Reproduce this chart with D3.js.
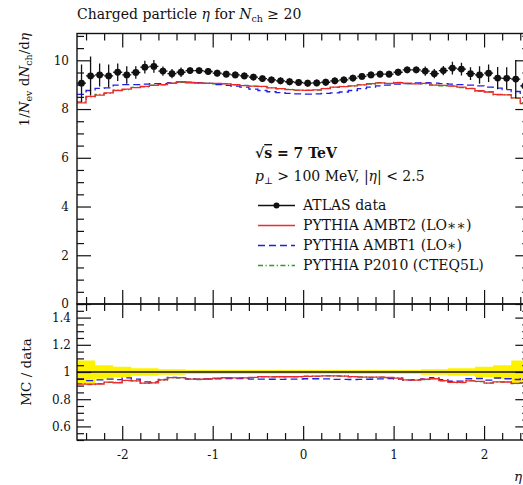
<!DOCTYPE html>
<html>
<head>
<meta charset="utf-8">
<script src="https://cdn.jsdelivr.net/npm/d3@7"></script>
<style>
  html, body { margin: 0; padding: 0; background: #fff; }
  svg { display: block; }
  text { font-family: "DejaVu Serif", "Liberation Serif", serif; fill: #111; }
</style>
</head>
<body>
<svg id="chart" width="523" height="485"></svg>
<script>
// Bin centres in eta (bin width 0.1)
const binCenters = [-2.45,-2.35,-2.25,-2.15,-2.05,-1.95,-1.85,-1.75,-1.65,-1.55,
  -1.45,-1.35,-1.25,-1.15,-1.05,-0.95,-0.85,-0.75,-0.65,-0.55,
  -0.45,-0.35,-0.25,-0.15,-0.05,0.05,0.15,0.25,0.35,0.45,
  0.55,0.65,0.75,0.85,0.95,1.05,1.15,1.25,1.35,1.45,
  1.55,1.65,1.75,1.85,1.95,2.05,2.15,2.25,2.35,2.45];
const binHalfWidth = 0.05;

// ATLAS data: 1/Nev dNch/deta and total uncertainty
const atlasData = [9.06,9.36,9.40,9.36,9.51,9.40,9.50,9.72,9.75,9.56,
  9.45,9.51,9.58,9.58,9.54,9.47,9.43,9.40,9.36,9.31,
  9.25,9.20,9.16,9.12,9.09,9.06,9.07,9.10,9.16,9.20,
  9.27,9.34,9.40,9.43,9.43,9.51,9.61,9.61,9.56,9.45,
  9.58,9.68,9.64,9.45,9.40,9.47,9.27,9.26,9.23,8.95];
const atlasErr = [0.77,0.80,0.47,0.47,0.36,0.36,0.26,0.26,0.26,0.19,
  0.19,0.19,0.14,0.14,0.14,0.14,0.14,0.14,0.14,0.14,
  0.14,0.14,0.14,0.14,0.14,0.14,0.14,0.14,0.14,0.14,
  0.14,0.14,0.14,0.14,0.14,0.14,0.14,0.14,0.19,0.19,
  0.19,0.26,0.26,0.26,0.36,0.36,0.46,0.46,0.78,0.76];

// PYTHIA predictions
const ambt2 = [8.25,8.52,8.57,8.66,8.76,8.82,8.88,8.93,8.97,9.00,
  9.06,9.12,9.08,9.07,9.05,9.05,9.03,9.00,8.96,8.94,
  8.93,8.87,8.84,8.80,8.78,8.77,8.79,8.84,8.90,8.92,
  8.95,8.99,9.04,9.07,9.05,9.08,9.06,9.03,9.05,8.98,
  8.97,8.94,8.90,8.84,8.75,8.70,8.60,8.58,8.46,8.22];
const ambt1 = [8.60,8.76,8.85,8.87,8.98,9.00,9.00,9.02,9.04,9.04,
  9.08,9.12,9.10,9.08,9.05,9.00,8.97,8.94,8.90,8.82,
  8.76,8.71,8.67,8.64,8.62,8.61,8.62,8.64,8.66,8.70,
  8.76,8.84,8.90,8.95,8.98,9.02,9.04,9.07,9.08,9.06,
  9.04,9.02,9.00,8.98,8.95,8.90,8.86,8.80,8.72,8.58];
const p2010 = [8.29,8.50,8.60,8.64,8.78,8.80,8.89,8.91,8.98,8.99,
  9.05,9.10,9.09,9.05,9.06,9.03,9.04,8.99,8.97,8.93,
  8.92,8.88,8.83,8.81,8.77,8.78,8.78,8.85,8.89,8.93,
  8.94,9.00,9.02,9.08,9.04,9.09,9.04,9.04,9.03,8.99,
  8.95,8.95,8.88,8.85,8.73,8.71,8.58,8.59,8.44,8.25];

const topMajorTicks = [0, 2, 4, 6, 8, 10];
const ratioMajorTicks = [0.6, 0.8, 1, 1.2, 1.4];
const xMajorTicks = [-2, -1, 0, 1, 2];

const series = [
  { name: "PYTHIA AMBT2 (LO\u2217\u2217)", values: ambt2, color: "#f02a2a", dash: null },
  { name: "PYTHIA AMBT1 (LO\u2217)", values: ambt1, color: "#1f1fe6", dash: "7,4" },
  { name: "PYTHIA P2010 (CTEQ5L)", values: p2010, color: "#2e9a2e", dash: "5,2.5,1.2,2.5" }
];

// ---- geometry ----
const L = 77, R = 529.3, T = 33.5, MID = 304, B = 440;
const MAJ = 14, MIN = 7;
const FONT = "DejaVu Serif, Liberation Serif, serif";

const svg = d3.select("#chart");
const x = d3.scaleLinear().domain([-2.5, 2.5]).range([L, R]);
const yTop = d3.scaleLinear().domain([0, 11.1]).range([MID, T]);
const yRat = d3.scaleLinear().domain([0.5, 1.5]).range([B, MID]);

const defs = svg.append("defs");
defs.append("clipPath").attr("id", "clipTop").append("rect")
  .attr("x", L).attr("y", T).attr("width", R - L).attr("height", MID - T);
defs.append("clipPath").attr("id", "clipRat").append("rect")
  .attr("x", L).attr("y", MID).attr("width", R - L).attr("height", B - MID);

// step-path points: one per bin low edge, plus the last high edge
function stepPoints(vals) {
  const pts = vals.map((v, i) => [binCenters[i] - binHalfWidth, v]);
  pts.push([binCenters[vals.length - 1] + binHalfWidth, vals[vals.length - 1]]);
  return pts;
}

// ---- ratio panel ----
const gRat = svg.append("g").attr("clip-path", "url(#clipRat)");
const relErr = atlasData.map((v, i) => atlasErr[i] / v);
const bandPts = relErr.map((r, i) => ({ x: binCenters[i] - binHalfWidth, r }));
bandPts.push({ x: binCenters[binCenters.length - 1] + binHalfWidth, r: relErr[relErr.length - 1] });
gRat.append("path")
  .attr("d", d3.area().curve(d3.curveStepAfter)
    .x(d => x(d.x)).y0(d => yRat(1 - d.r)).y1(d => yRat(1 + d.r))(bandPts))
  .attr("fill", "#fff200");
gRat.append("line")
  .attr("x1", L).attr("x2", R).attr("y1", yRat(1)).attr("y2", yRat(1))
  .attr("stroke", "#111").attr("stroke-width", 1.5);

const ratioLine = d3.line().curve(d3.curveStepAfter).x(d => x(d[0])).y(d => yRat(d[1]));
series.slice().reverse().forEach(s => {
  const ratios = s.values.map((v, i) => v / atlasData[i]);
  gRat.append("path")
    .attr("d", ratioLine(stepPoints(ratios)))
    .attr("fill", "none").attr("stroke", s.color).attr("stroke-width", 1.3)
    .attr("stroke-dasharray", s.dash);
});

// ---- main panel ----
const gTop = svg.append("g").attr("clip-path", "url(#clipTop)");
const topLine = d3.line().curve(d3.curveStepAfter).x(d => x(d[0])).y(d => yTop(d[1]));
series.slice().reverse().forEach(s => {
  gTop.append("path")
    .attr("d", topLine(stepPoints(s.values)))
    .attr("fill", "none").attr("stroke", s.color).attr("stroke-width", 1.3)
    .attr("stroke-dasharray", s.dash);
});

const pts = gTop.selectAll("g.pt").data(atlasData).join("g").attr("class", "pt");
pts.append("line")
  .attr("x1", (d, i) => x(binCenters[i])).attr("x2", (d, i) => x(binCenters[i]))
  .attr("y1", (d, i) => yTop(d - atlasErr[i])).attr("y2", (d, i) => yTop(d + atlasErr[i]))
  .attr("stroke", "#111").attr("stroke-width", 1.3);
pts.append("line")
  .attr("x1", (d, i) => x(binCenters[i] - binHalfWidth)).attr("x2", (d, i) => x(binCenters[i] + binHalfWidth))
  .attr("y1", d => yTop(d)).attr("y2", d => yTop(d))
  .attr("stroke", "#111").attr("stroke-width", 1.3);
pts.append("circle")
  .attr("cx", (d, i) => x(binCenters[i])).attr("cy", d => yTop(d)).attr("r", 3.4)
  .attr("fill", "#111");

// ---- axes ----
function ticksBetween(lo, hi, step, skip) {
  const out = [];
  for (let v = lo; v <= hi + 1e-9; v += step) {
    const r = Math.round(v * 1000) / 1000;
    if (!skip.some(s => Math.abs(s - r) < 1e-6)) out.push(r);
  }
  return out;
}
const topMinor = ticksBetween(0, 11, 0.5, topMajorTicks);
const ratMinor = ticksBetween(0.5, 1.5, 0.05, ratioMajorTicks);
const xMinor = ticksBetween(-2.4, 2.4, 0.2, xMajorTicks);

function addAxis(axis, tx, ty) {
  const g = svg.append("g").attr("transform", `translate(${tx},${ty})`).call(axis);
  g.select(".domain").remove();
  g.selectAll(".tick line").attr("stroke", "#111").attr("stroke-width", 1.2);
  g.selectAll("text").attr("font-family", FONT).attr("font-size", 12).attr("fill", "#111");
  return g;
}
// vertical axes, main panel
addAxis(d3.axisLeft(yTop).tickValues(topMajorTicks).tickSizeInner(-MAJ).tickSizeOuter(0).tickPadding(8).tickFormat(d3.format("d")), L, 0);
addAxis(d3.axisLeft(yTop).tickValues(topMinor).tickSizeInner(-MIN).tickSizeOuter(0).tickFormat(""), L, 0);
addAxis(d3.axisRight(yTop).tickValues(topMajorTicks).tickSizeInner(-MAJ).tickSizeOuter(0).tickFormat(""), R, 0);
addAxis(d3.axisRight(yTop).tickValues(topMinor).tickSizeInner(-MIN).tickSizeOuter(0).tickFormat(""), R, 0);
// vertical axes, ratio panel
addAxis(d3.axisLeft(yRat).tickValues(ratioMajorTicks).tickSizeInner(-MAJ).tickSizeOuter(0).tickPadding(6).tickFormat(d => String(d)), L, 0);
addAxis(d3.axisLeft(yRat).tickValues(ratMinor).tickSizeInner(-MIN).tickSizeOuter(0).tickFormat(""), L, 0);
addAxis(d3.axisRight(yRat).tickValues(ratioMajorTicks).tickSizeInner(-MAJ).tickSizeOuter(0).tickFormat(""), R, 0);
addAxis(d3.axisRight(yRat).tickValues(ratMinor).tickSizeInner(-MIN).tickSizeOuter(0).tickFormat(""), R, 0);
// horizontal axes
[[d3.axisTop, T], [d3.axisBottom, MID], [d3.axisTop, MID]].forEach(([ax, yy]) => {
  addAxis(ax(x).tickValues(xMajorTicks).tickSizeInner(-MAJ).tickSizeOuter(0).tickFormat(""), 0, yy);
  addAxis(ax(x).tickValues(xMinor).tickSizeInner(-MIN).tickSizeOuter(0).tickFormat(""), 0, yy);
});
addAxis(d3.axisBottom(x).tickValues(xMajorTicks).tickSizeInner(-MAJ).tickSizeOuter(0).tickPadding(10).tickFormat(d => String(d)), 0, B);
addAxis(d3.axisBottom(x).tickValues(xMinor).tickSizeInner(-MIN).tickSizeOuter(0).tickFormat(""), 0, B);

// frames
svg.append("rect").attr("x", L).attr("y", T).attr("width", R - L).attr("height", MID - T)
  .attr("fill", "none").attr("stroke", "#111").attr("stroke-width", 1.4);
svg.append("rect").attr("x", L).attr("y", MID).attr("width", R - L).attr("height", B - MID)
  .attr("fill", "none").attr("stroke", "#111").attr("stroke-width", 1.4);

// ---- titles and labels ----
const title = svg.append("text").attr("x", L).attr("y", 19).attr("font-size", 14);
title.append("tspan").text("Charged particle ");
title.append("tspan").attr("font-style", "italic").text("\u03b7");
title.append("tspan").text(" for ");
title.append("tspan").attr("font-style", "italic").text("N");
title.append("tspan").attr("font-size", 9.5).attr("dy", 3).text("ch");
title.append("tspan").attr("dy", -3).text(" \u2265 20");

const yl = svg.append("text").attr("transform", "translate(29,33) rotate(-90)")
  .attr("text-anchor", "end").attr("font-size", 13.5);
yl.append("tspan").text("1/");
yl.append("tspan").attr("font-style", "italic").text("N");
yl.append("tspan").attr("font-size", 9.5).attr("dy", 3).text("ev");
yl.append("tspan").attr("dy", -3).text(" d");
yl.append("tspan").attr("font-style", "italic").text("N");
yl.append("tspan").attr("font-size", 9.5).attr("dy", 3).text("ch");
yl.append("tspan").attr("dy", -3).text("/d");
yl.append("tspan").attr("font-style", "italic").text("\u03b7");

svg.append("text").attr("transform", `translate(31,${yRat(1)}) rotate(-90)`)
  .attr("text-anchor", "middle").attr("font-size", 13.5).text("MC / data");

svg.append("text").attr("x", 522).attr("y", 481).attr("text-anchor", "end")
  .attr("font-size", 13.5).attr("font-style", "italic").text("\u03b7");

// ---- legend ----
const lg = svg.append("g");
const t1 = lg.append("text").attr("x", 255).attr("y", 158).attr("font-size", 14).attr("font-weight", "bold");
t1.append("tspan").text("\u221a");
t1.append("tspan").style("text-decoration", "overline").text("s");
t1.append("tspan").text(" = 7 TeV");
const t2 = lg.append("text").attr("x", 255).attr("y", 181).attr("font-size", 14);
t2.append("tspan").attr("font-style", "italic").text("p");
t2.append("tspan").attr("font-size", 9.5).attr("dy", 3).text("\u22a5");
t2.append("tspan").attr("dy", -3).text(" > 100 MeV, |");
t2.append("tspan").attr("font-style", "italic").text("\u03b7");
t2.append("tspan").text("| < 2.5");

const lx0 = 258, lx1 = 295, ltx = 303, ly0 = 210, lstep = 20;
const ent0 = lg.append("g");
ent0.append("line").attr("x1", lx0).attr("x2", lx1).attr("y1", ly0 - 4.5).attr("y2", ly0 - 4.5)
  .attr("stroke", "#111").attr("stroke-width", 1.3);
ent0.append("circle").attr("cx", (lx0 + lx1) / 2).attr("cy", ly0 - 4.5).attr("r", 3).attr("fill", "#111");
ent0.append("text").attr("x", ltx).attr("y", ly0).attr("font-size", 14).text("ATLAS data");
series.forEach((s, i) => {
  const yy = ly0 + lstep * (i + 1);
  lg.append("line").attr("x1", lx0).attr("x2", lx1).attr("y1", yy - 4.5).attr("y2", yy - 4.5)
    .attr("stroke", s.color).attr("stroke-width", 1.3).attr("stroke-dasharray", s.dash);
  lg.append("text").attr("x", ltx).attr("y", yy).attr("font-size", 14).text(s.name);
});
</script>
</body>
</html>
